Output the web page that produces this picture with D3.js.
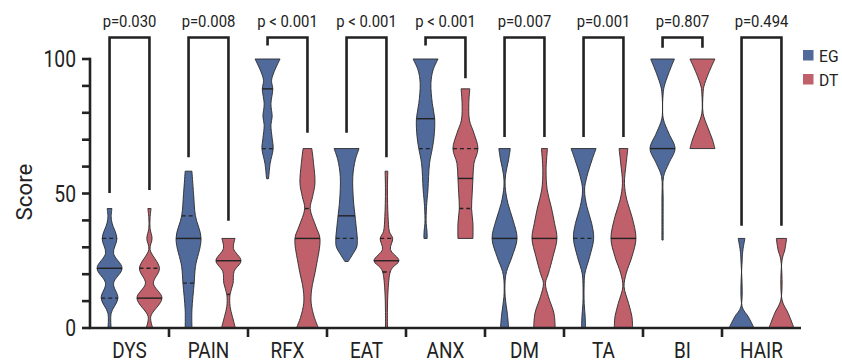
<!DOCTYPE html>
<html>
<head>
<meta charset="utf-8">
<script src="https://cdn.jsdelivr.net/npm/d3@7/dist/d3.min.js"></script>
<style>
  html, body { margin: 0; padding: 0; background: #fff; }
  svg { display: block; }
  text { font-family: Roboto, "Liberation Sans", sans-serif; fill: #222; }
</style>
</head>
<body>
<svg id="chart" width="842" height="363"></svg>
<script>
// ---------------- DATA ----------------
const categories = ["DYS", "PAIN", "RFX", "EAT", "ANX", "DM", "TA", "BI", "HAIR"];
const groups = ["EG", "DT"];
const pLabels = ["p=0.030", "p=0.008", "p < 0.001", "p < 0.001", "p < 0.001", "p=0.007", "p=0.001", "p=0.807", "p=0.494"];
const yTicks = [0, 10, 20, 30, 40, 50, 60, 70, 80, 90, 100];
const yTickLabels = [0, 50, 100];

// relative density profiles: [score, relative half-width 0..1]
const densityEG = [
  [[0,0.13],[5.5,0.13],[11.1,0.67],[16.6,0.32],[22.2,1.0],[27.8,0.32],[33.3,0.59],[39,0.2],[41.4,0.13],[44.4,0.19]],
  [[0,0.27],[6.7,0.27],[16.7,0.45],[22.8,0.55],[33.3,1.0],[41.7,0.55],[50,0.4],[58.3,0.27]],
  [[55.5,0.08],[61.2,0.21],[66.7,0.45],[70.5,0.37],[75.5,0.27],[78.6,0.37],[83.3,0.27],[88.9,0.42],[92,0.32],[95.3,0.53],[100,1.0]],
  [[24.7,0.13],[27.1,0.45],[30.2,0.82],[33.3,0.86],[36.4,0.8],[41.7,0.68],[47.6,0.55],[56.3,0.5],[62.5,0.7],[66.7,1.0]],
  [[33.3,0.13],[35.8,0.12],[38.9,0.05],[45.1,0.08],[51.3,0.19],[61.2,0.32],[66.7,0.54],[71.1,0.68],[77.8,0.73],[83.5,0.54],[90.9,0.43],[95.9,0.6],[100,1.0]],
  [[0,0.33],[5.5,0.22],[11.6,0.05],[17.8,0.05],[21,0.16],[26.5,0.6],[33.3,1.0],[40.1,0.68],[46.3,0.27],[52.5,0.05],[56.9,0.08],[62.5,0.32],[66.7,0.46]],
  [[0,0.16],[4.2,0.13],[9.2,0.05],[16.6,0.05],[20.3,0.11],[26.5,0.49],[33.3,0.81],[38.9,0.65],[45.1,0.27],[51.3,0.08],[56.3,0.27],[62.5,0.68],[66.7,1.0]],
  [[32.7,0.05],[47.6,0.05],[56.3,0.08],[61.2,0.5],[66.7,1.0],[72.4,0.5],[78,0.05],[87.2,0.05],[89.7,0.13],[94.7,0.49],[100,0.95]],
  [[0,1.0],[4.2,0.54],[7.9,0.05],[25.3,0.05],[29,0.11],[33.3,0.27]]
];
const densityDT = [
  [[0,0.27],[4.2,0.1],[11.1,1.0],[16.6,0.32],[22.2,0.8],[29.2,0.05],[33.3,0.21],[37,0.05],[41,0.05],[44.4,0.13]],
  [[0,0.56],[4.2,0.32],[8,0.13],[12.5,0.13],[16.6,0.37],[21,0.45],[25,1.0],[29.6,0.4],[33.3,0.53]],
  [[0,0.88],[4,0.55],[9.2,0.3],[14.1,0.33],[22.8,0.7],[33.3,1.0],[37.7,0.68],[44.4,0.22],[48.8,0.41],[53.8,0.6],[61.2,0.49],[66.7,0.35]],
  [[0,0.08],[6.7,0.08],[14.1,0.13],[20.8,0.3],[22.5,0.5],[25,1.0],[29.2,0.32],[33.3,0.5],[35.8,0.24],[41.4,0.13],[51.3,0.08],[58.3,0.11]],
  [[33.3,0.6],[38.9,0.6],[44.4,0.49],[50,0.54],[55.6,0.6],[61.2,0.68],[66.7,1.0],[72.4,0.68],[77.3,0.32],[83.5,0.27],[88.9,0.35]],
  [[0,0.86],[5.5,0.76],[11.6,0.32],[16.6,0.08],[20.3,0.32],[26.5,0.68],[33.3,1.0],[38.9,0.81],[45.1,0.54],[51.3,0.22],[58.7,0.13],[66.7,0.24]],
  [[0,0.73],[4.2,0.68],[9.2,0.41],[15.4,0.05],[20.3,0.22],[26.5,0.68],[33.3,1.0],[41.4,0.68],[47.6,0.27],[53.8,0.08],[61.2,0.22],[66.7,0.35]],
  [[66.7,1.0],[69.9,0.81],[74.8,0.41],[79.8,0.05],[87.2,0.05],[89.7,0.11],[94.7,0.49],[100,1.0]],
  [[0,1.0],[5.5,0.54],[10.4,0.05],[25.3,0.05],[29,0.27],[33.3,0.41]]
];
const medianEG = [22.2, 33.3, 88.9, 41.7, 77.8, 33.3, null, 66.7, null];
const medianDT = [11.1, 25, 33.3, 25, 55.6, 33.3, 33.3, null, null];
const quartilesEG = [[11.1, 33.3], [16.7, 41.7], [66.7], [33.3], [66.7], [], [33.3], [], []];
const quartilesDT = [[22.2], [12.5], [44.4], [20.8, 33.3], [44.4, 66.7], [], [], [], []];
// bracket leg ends (score units) and bracket top
const bracketEndEG = [50.2, 63.5, 105, 72.6, 105, 71, 71, 104.2, 38];
const bracketEndDT = [51.3, 39.9, 72.6, 63.5, 92.8, 71, 71, 104.2, 38];
const bracketTop = 108;

const colors = { EG: "#4f6a9b", DT: "#c0606b" };

// ---------------- CHART ----------------
const svg = d3.select("#chart");
const x = d3.scaleBand().domain(categories).range([90, 801]).paddingInner(0).paddingOuter(0);
const xg = d3.scalePoint().domain(groups).range([0, x.bandwidth()]).padding(0.49);
const y = d3.scaleLinear().domain([0, 100]).range([328, 59]);
const w = d3.scaleLinear().domain([0, 1]).range([0, 12.5]);

// condensed-looking real text
function addText(parent, tx, ty, str, size, sx, anchor, rot) {
  return parent.append("text")
    .attr("transform", `translate(${tx},${ty})${rot ? ` rotate(${rot})` : ""} scale(${sx},1)`)
    .attr("text-anchor", anchor || "middle")
    .attr("font-size", size)
    .text(str);
}

function widthAt(profile, s) {
  for (let i = 0; i < profile.length - 1; i++) {
    const a = profile[i], b = profile[i + 1];
    if (s >= a[0] && s <= b[0]) {
      const t = (s - a[0]) / (b[0] - a[0] || 1);
      return a[1] + t * (b[1] - a[1]);
    }
  }
  return profile[profile.length - 1][1];
}

const gV = svg.append("g");
categories.forEach((cat, i) => {
  groups.forEach(g => {
    const cx = x(cat) + xg(g);
    const prof = g === "EG" ? densityEG[i] : densityDT[i];
    const area = d3.area()
      .y(d => y(d[0]))
      .x0(d => cx - w(d[1]))
      .x1(d => cx + w(d[1]))
      .curve(d3.curveCatmullRom.alpha(0.5));
    gV.append("path")
      .attr("d", area(prof))
      .attr("fill", colors[g])
      .attr("stroke", "#2a2a2a")
      .attr("stroke-width", 0.9);
    const med = g === "EG" ? medianEG[i] : medianDT[i];
    if (med != null) {
      const hw = w(widthAt(prof, med));
      gV.append("line")
        .attr("x1", cx - hw).attr("x2", cx + hw)
        .attr("y1", y(med)).attr("y2", y(med))
        .attr("stroke", "#222").attr("stroke-width", 1.4);
    }
    const qs = g === "EG" ? quartilesEG[i] : quartilesDT[i];
    qs.forEach(q => {
      const hw = w(widthAt(prof, q));
      gV.append("line")
        .attr("x1", cx - hw).attr("x2", cx + hw)
        .attr("y1", y(q)).attr("y2", y(q))
        .attr("stroke", "#222").attr("stroke-width", 1.4)
        .attr("stroke-dasharray", "4,3");
    });
  });

  // significance bracket
  const xl = x(cat) + xg("EG"), xr = x(cat) + xg("DT");
  svg.append("path")
    .attr("d", `M${xl},${y(bracketEndEG[i])}V${y(bracketTop)}H${xr}V${y(bracketEndDT[i])}`)
    .attr("fill", "none").attr("stroke", "#222").attr("stroke-width", 2.6);
  addText(svg, (xl + xr) / 2, 27, pLabels[i], 16.5, 0.9);
});

// Y axis
const gy = svg.append("g");
gy.append("line").attr("x1", 90).attr("x2", 90).attr("y1", y(100) - 1.3).attr("y2", y(0))
  .attr("stroke", "#222").attr("stroke-width", 2.6);
yTicks.forEach(t => {
  gy.append("line").attr("x1", 82).attr("x2", 90).attr("y1", y(t)).attr("y2", y(t))
    .attr("stroke", "#222").attr("stroke-width", 2.6);
});
yTickLabels.forEach(t => {
  addText(gy, 76, y(t) + 8.2, t, 23, 0.84, "end");
});
addText(svg, 32, 192, "Score", 23, 0.97, "middle", -90);

// X axis
const gx = svg.append("g");
gx.append("line").attr("x1", 89).attr("x2", 801).attr("y1", y(0)).attr("y2", y(0))
  .attr("stroke", "#222").attr("stroke-width", 2.6);
categories.slice(1).forEach(c => {
  gx.append("line").attr("x1", x(c)).attr("x2", x(c)).attr("y1", y(0)).attr("y2", y(0) + 9)
    .attr("stroke", "#222").attr("stroke-width", 2.6);
});
categories.forEach(c => {
  addText(gx, x(c) + x.bandwidth() / 2, 358, c, 21.5, 0.88);
});

// Legend
const lg = svg.append("g");
groups.forEach((g, k) => {
  lg.append("rect").attr("x", 803).attr("y", 50 + k * 24).attr("width", 10.5).attr("height", 10.5)
    .attr("fill", colors[g]);
  addText(lg, 819, 62 + k * 24, g, 17, 0.92, "start");
});
</script>
</body>
</html>
